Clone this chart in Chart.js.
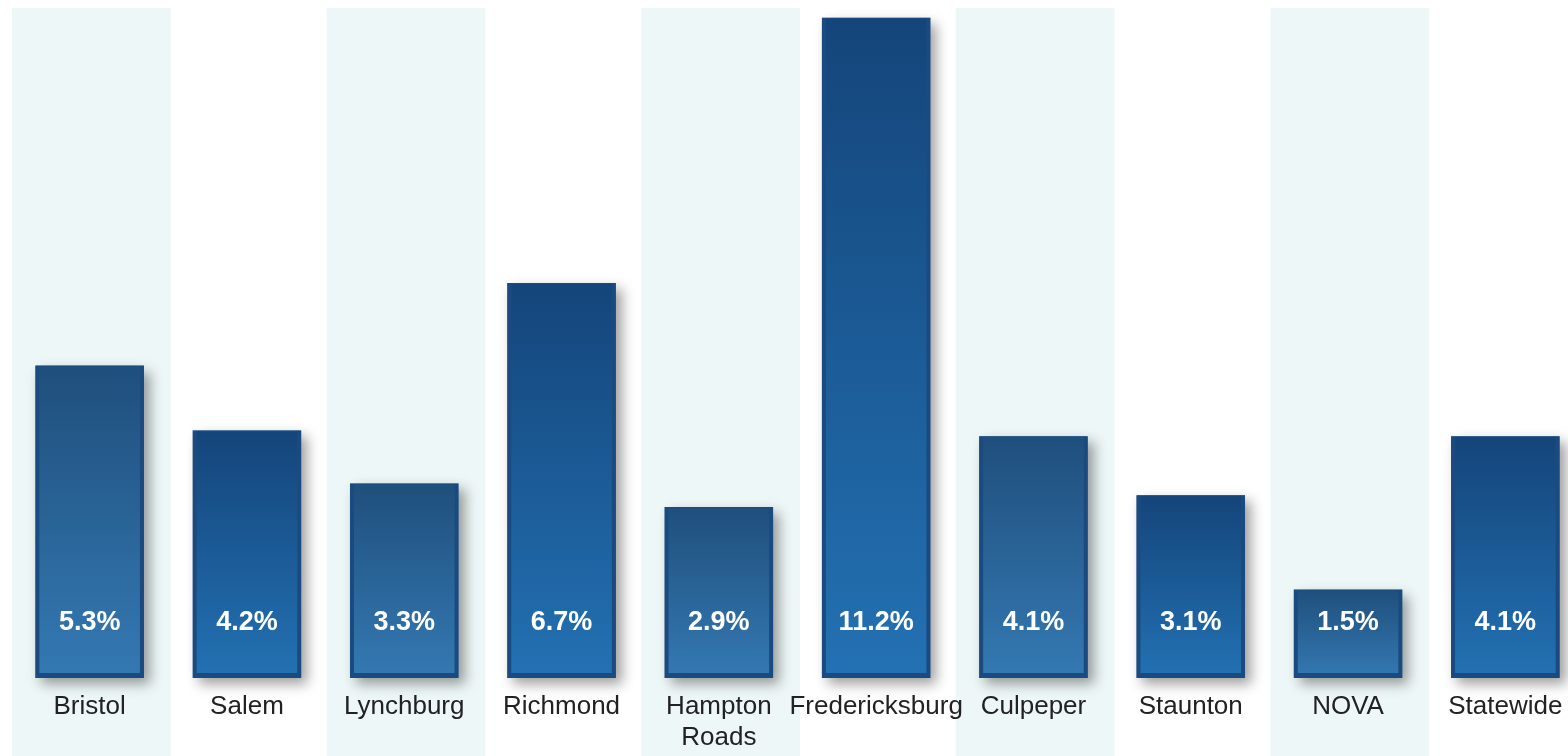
<!DOCTYPE html>
<html>
<head>
<meta charset="utf-8">
<script src="https://cdn.jsdelivr.net/npm/chart.js@4.4.1/dist/chart.umd.min.js"></script>
<style>
  html, body { margin: 0; padding: 0; background: #ffffff; overflow: hidden; }
  #wrap { width: 1590px; height: 756px; position: relative; }
</style>
</head>
<body>
<div id="wrap"><canvas id="chart"></canvas></div>
<script>
// Regions shown along the axis
const regions = ['Bristol', 'Salem', 'Lynchburg', 'Richmond', ['Hampton', 'Roads'],
  'Fredericksburg', 'Culpeper', 'Staunton', 'NOVA', 'Statewide'];
// Percentage value for each region
const rates = [5.3, 4.2, 3.3, 6.7, 2.9, 11.2, 4.1, 3.1, 1.5, 4.1];
// Text printed inside each bar
const rateLabels = ['5.3%', '4.2%', '3.3%', '6.7%', '2.9%', '11.2%', '4.1%', '3.1%', '1.5%', '4.1%'];

// Alternating pale column bands behind every other region
const bandPlugin = {
  id: 'bands',
  beforeDraw(chart) {
    const { ctx, scales: { x } } = chart;
    const step = x.width / regions.length;
    ctx.save();
    ctx.fillStyle = '#eef7f7';
    for (let i = 0; i < regions.length; i += 2) {
      const cx = x.getPixelForValue(i);
      ctx.fillRect(cx - step / 2 + 1, 8, step + 1.5, chart.height - 8);
    }
    ctx.restore();
  }
};

// Soft drop shadow underneath each bar
const shadowPlugin = {
  id: 'barShadow',
  beforeDatasetsDraw(chart) {
    const { ctx } = chart;
    const meta = chart.getDatasetMeta(0);
    ctx.save();
    ctx.shadowColor = 'rgba(0,0,0,0.38)';
    ctx.shadowBlur = 12;
    ctx.shadowOffsetX = 6;
    ctx.shadowOffsetY = 6;
    ctx.fillStyle = '#1c4f84';
    meta.data.forEach(bar => {
      const p = bar.getProps(['x', 'y', 'base', 'width'], true);
      ctx.fillRect(p.x - p.width / 2, p.y, p.width, p.base - p.y);
    });
    ctx.restore();
  }
};

// White value text near the foot of each bar
const valuePlugin = {
  id: 'values',
  afterDatasetsDraw(chart) {
    const { ctx, chartArea } = chart;
    const meta = chart.getDatasetMeta(0);
    ctx.save();
    ctx.fillStyle = '#ffffff';
    ctx.font = 'bold 27px "Liberation Sans", Arial, sans-serif';
    ctx.textAlign = 'center';
    ctx.textBaseline = 'middle';
    meta.data.forEach((bar, i) => {
      ctx.fillText(rateLabels[i], bar.x, chartArea.bottom - 55);
    });
    ctx.restore();
  }
};

// Vertical gradient running from each bar's own top down to the baseline
function barGradient(context) {
  const chart = context.chart;
  const area = chart.chartArea;
  if (!area || context.raw === undefined) return '#2366a3';
  const top = chart.scales.y.getPixelForValue(context.raw);
  const g = chart.ctx.createLinearGradient(0, top, 0, area.bottom);
  if (context.dataIndex % 2 === 0) {
    g.addColorStop(0, '#1f4f7c');
    g.addColorStop(1, '#3479b3');
  } else {
    g.addColorStop(0, '#14457a');
    g.addColorStop(1, '#2371b3');
  }
  return g;
}

new Chart(document.getElementById('chart'), {
  type: 'bar',
  data: {
    labels: regions,
    datasets: [{
      data: rates,
      backgroundColor: barGradient,
      borderColor: '#1a4a80',
      borderWidth: { top: 1, left: 4, right: 4, bottom: 5 },
      borderSkipped: false,
      barPercentage: 0.69,
      categoryPercentage: 1.0
    }]
  },
  options: {
    responsive: true,
    maintainAspectRatio: false,
    animation: false,
    layout: { padding: { left: 11, right: 6, top: 0, bottom: 0 } },
    plugins: { legend: { display: false }, tooltip: { enabled: false } },
    scales: {
      y: { display: false, min: 0, max: 11.5 },
      x: {
        grid: { display: false, drawTicks: false },
        border: { display: false },
        ticks: {
          color: '#222222',
          font: { family: '"Liberation Sans", Arial, sans-serif', size: 26, lineHeight: 1.2 },
          padding: 13,
          autoSkip: false,
          maxRotation: 0,
          minRotation: 0
        },
        afterFit(scale) { scale.height = 78; }
      }
    }
  },
  plugins: [bandPlugin, shadowPlugin, valuePlugin]
});
</script>
</body>
</html>
